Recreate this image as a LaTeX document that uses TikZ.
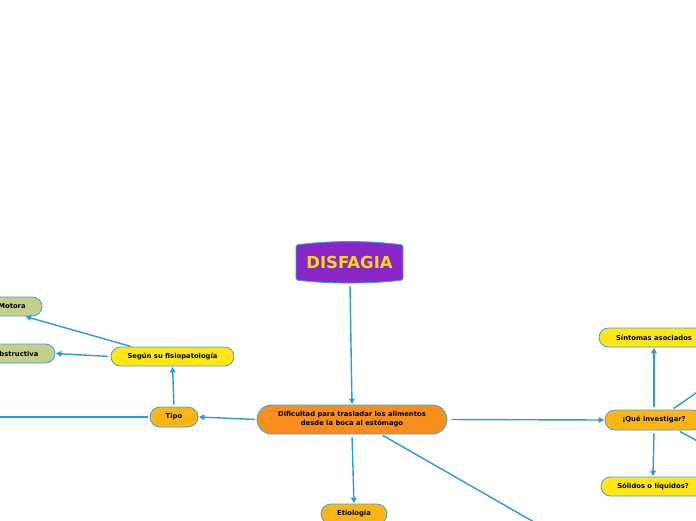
\documentclass[tikz,border=0pt]{standalone}
\usepackage{fontspec}
\setmainfont{DejaVu Sans}
\usetikzlibrary{arrows.meta,calc}
\definecolor{conn}{HTML}{2B9BDD}
\definecolor{bord}{HTML}{3DA2E2}
\definecolor{purp}{HTML}{8A26C8}
\definecolor{ttl}{HTML}{F8D914}
\definecolor{orng}{HTML}{F78E1E}
\definecolor{oryl}{HTML}{FDB515}
\definecolor{yel}{HTML}{FFE614}
\definecolor{grn}{HTML}{C4CF8B}
\tikzset{
  box/.style={draw=bord, line width=0.8pt, rounded corners=9.5pt, minimum height=19pt,
    inner sep=0pt, align=center, font=\bfseries\fontsize{6.8}{9}\selectfont, text=black},
  orbox/.style={box, fill=oryl, minimum height=20pt, rounded corners=10pt},
  yebox/.style={box, fill=yel},
  grbox/.style={box, fill=grn},
  link/.style={draw=conn, line width=1.4pt},
  arr/.style={link, -{Triangle[length=5.5pt,width=5.5pt]}, shorten >=0.5pt},
}
\begin{document}
\begin{tikzpicture}[x=1pt,y=-1pt]
\useasboundingbox (0,0) rectangle (696,520);
\clip (0,0) rectangle (696,520);
\fill[white] (0,0) rectangle (696,520);
% title
\draw[draw=bord, line width=0.9pt, fill=purp, rounded corners=1.5pt] (296,245) .. controls (330,240.5) and (369,240.5) .. (403,245) -- (403,280) .. controls (369,284) and (330,284) .. (296,280) -- cycle;
\node[inner sep=0pt, font=\bfseries\fontsize{16.5}{18}\selectfont, text=ttl] (dis) at (349.5,262.5) {DISFAGIA};
\coordinate (disb) at (350,286);
% nodes
\node[box, fill=orng, minimum width=190pt, minimum height=29pt, rounded corners=14.5pt] (main) at (352,419.5) {Dificultad para trasladar los alimentos\\desde la boca al estómago};
\node[orbox, minimum width=48pt] (tipo) at (174,417) {Tipo};
\node[yebox, minimum width=123pt] (segun) at (172.5,356.5) {Según su fisiopatología};
\node[grbox, minimum width=60pt] (motora) at (12,306.5) {Motora};
\node[grbox, minimum width=78pt] (obs) at (16,353.5) {Obstructiva};
\node[orbox, minimum width=98pt] (que) at (654,420) {¡Qué investigar?};
\node[yebox, minimum width=110pt] (sint) at (654,337.5) {Síntomas asociados};
\node[yebox, minimum width=104pt] (sol) at (653,486.5) {Sólidos o líquidos?};
\node[orbox, minimum width=66pt] (etio) at (354,514) {Etiología};
% free ends
\coordinate (offl) at (-5,417);
\coordinate (offr1) at (712,382);
\coordinate (offr2) at (712,449);
\coordinate (offb) at (541,526);
% connectors
\draw[arr] (disb) -- (main.north);
\draw[arr, shorten <=2pt] (main.west) -- (tipo.east);
\draw[link, shorten <=2pt] (tipo.west) -- (offl);
\draw[arr, shorten <=2pt] (tipo.north) -- (segun.south);
\draw[arr, shorten <=1pt] ([xshift=21pt]segun.north west) -- ([xshift=13pt]motora.south);
\draw[arr, shorten <=3pt] (segun.west) -- (obs.east);
\draw[arr, shorten <=4pt] (main.east) -- (que.west);
\draw[arr, shorten <=3pt] (que.north) -- (sint.south);
\draw[arr, shorten <=3pt] (que.south) -- (sol.north);
\draw[link, shorten <=2pt] ([xshift=18pt]que.north) -- (offr1);
\draw[link, shorten <=2pt] ([xshift=24pt]que.south) -- (offr2);
\draw[arr, shorten <=3pt] (main.south) -- (etio.north);
\draw[link, shorten <=2pt] ([xshift=29pt]main.south) -- (offb);
\end{tikzpicture}
\end{document}
